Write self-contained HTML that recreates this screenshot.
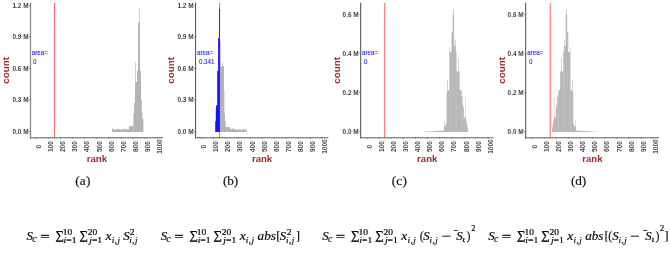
<!DOCTYPE html>
<html><head><meta charset="utf-8"><title>figure</title>
<style>html,body{margin:0;padding:0;background:#fff;}svg{display:block;}</style></head><body>
<svg width="670" height="269" viewBox="0 0 670 269">
<rect width="670" height="269" fill="#fff"/>
<g transform="translate(0.00,0)">
<path d="M112.20,132.00 L112.20,128.53 L113.00,128.53 L113.00,128.92 L113.80,128.92 L113.80,129.43 L114.60,129.43 L114.60,129.72 L115.40,129.72 L115.40,129.70 L116.20,129.70 L116.20,128.88 L117.00,128.88 L117.00,128.76 L117.80,128.76 L117.80,129.87 L118.60,129.87 L118.60,129.02 L119.40,129.02 L119.40,128.94 L120.20,128.94 L120.20,129.97 L121.00,129.97 L121.00,129.19 L121.80,129.19 L121.80,129.66 L122.60,129.66 L122.60,129.11 L123.40,129.11 L123.40,129.29 L124.20,129.29 L124.20,128.57 L125.00,128.57 L125.00,129.20 L125.80,129.20 L125.80,129.49 L126.60,129.49 L126.60,128.96 L127.40,128.96 L127.40,129.22 L128.20,129.22 L128.20,129.08 L129.00,129.08 L129.00,126.30 L133.40,126.30 L133.40,113.00 L134.20,113.00 L134.20,103.00 L135.00,103.00 L135.00,62.60 L135.60,62.60 L135.60,82.00 L137.00,82.00 L137.00,70.70 L138.00,70.70 L138.20,22.00 L139.10,22.00 L139.10,8.70 L139.70,8.70 L139.70,22.00 L139.95,22.00 L140.10,70.70 L141.00,70.70 L141.00,100.00 L141.80,100.00 L141.80,112.00 L142.40,112.00 L142.40,119.00 L143.40,119.00 L143.40,132.00Z" fill="#b4b4b4"/>
<line x1="30.50" y1="2.60" x2="30.50" y2="138.30" stroke="#8a8a8a" stroke-width="1.30"/>
<line x1="30.00" y1="137.80" x2="163.30" y2="137.80" stroke="#5a5a5a" stroke-width="1.0"/>
<line x1="28.80" y1="5.70" x2="30.50" y2="5.70" stroke="#666" stroke-width="0.7"/>
<text x="28.50" y="8.05" font-family="Liberation Sans, sans-serif" font-size="6.45" font-weight="bold" fill="#444" stroke="#3c3c3c" stroke-width="0" text-anchor="end">1.2 M</text>
<line x1="28.80" y1="36.70" x2="30.50" y2="36.70" stroke="#666" stroke-width="0.7"/>
<text x="28.50" y="39.05" font-family="Liberation Sans, sans-serif" font-size="6.45" font-weight="bold" fill="#444" stroke="#3c3c3c" stroke-width="0" text-anchor="end">0.9 M</text>
<line x1="28.80" y1="68.30" x2="30.50" y2="68.30" stroke="#666" stroke-width="0.7"/>
<text x="28.50" y="70.65" font-family="Liberation Sans, sans-serif" font-size="6.45" font-weight="bold" fill="#444" stroke="#3c3c3c" stroke-width="0" text-anchor="end">0.6 M</text>
<line x1="28.80" y1="99.90" x2="30.50" y2="99.90" stroke="#666" stroke-width="0.7"/>
<text x="28.50" y="102.25" font-family="Liberation Sans, sans-serif" font-size="6.45" font-weight="bold" fill="#444" stroke="#3c3c3c" stroke-width="0" text-anchor="end">0.3 M</text>
<line x1="28.80" y1="131.60" x2="30.50" y2="131.60" stroke="#666" stroke-width="0.7"/>
<text x="28.50" y="133.95" font-family="Liberation Sans, sans-serif" font-size="6.45" font-weight="bold" fill="#444" stroke="#3c3c3c" stroke-width="0" text-anchor="end">0.0 M</text>
<line x1="36.40" y1="137.80" x2="36.40" y2="139.00" stroke="#777" stroke-width="0.7"/>
<text transform="translate(41.00,146.6) rotate(-90)" font-family="Liberation Sans, sans-serif" font-size="6.5" font-weight="bold" fill="#4a4a4a" stroke="#3c3c3c" stroke-width="0" text-anchor="middle">0</text>
<line x1="48.50" y1="137.80" x2="48.50" y2="139.00" stroke="#777" stroke-width="0.7"/>
<text transform="translate(53.10,146.6) rotate(-90)" font-family="Liberation Sans, sans-serif" font-size="6.5" font-weight="bold" fill="#4a4a4a" stroke="#3c3c3c" stroke-width="0" text-anchor="middle">100</text>
<line x1="60.60" y1="137.80" x2="60.60" y2="139.00" stroke="#777" stroke-width="0.7"/>
<text transform="translate(65.20,146.6) rotate(-90)" font-family="Liberation Sans, sans-serif" font-size="6.5" font-weight="bold" fill="#4a4a4a" stroke="#3c3c3c" stroke-width="0" text-anchor="middle">200</text>
<line x1="72.70" y1="137.80" x2="72.70" y2="139.00" stroke="#777" stroke-width="0.7"/>
<text transform="translate(77.30,146.6) rotate(-90)" font-family="Liberation Sans, sans-serif" font-size="6.5" font-weight="bold" fill="#4a4a4a" stroke="#3c3c3c" stroke-width="0" text-anchor="middle">300</text>
<line x1="84.80" y1="137.80" x2="84.80" y2="139.00" stroke="#777" stroke-width="0.7"/>
<text transform="translate(89.40,146.6) rotate(-90)" font-family="Liberation Sans, sans-serif" font-size="6.5" font-weight="bold" fill="#4a4a4a" stroke="#3c3c3c" stroke-width="0" text-anchor="middle">400</text>
<line x1="96.90" y1="137.80" x2="96.90" y2="139.00" stroke="#777" stroke-width="0.7"/>
<text transform="translate(101.50,146.6) rotate(-90)" font-family="Liberation Sans, sans-serif" font-size="6.5" font-weight="bold" fill="#4a4a4a" stroke="#3c3c3c" stroke-width="0" text-anchor="middle">500</text>
<line x1="109.00" y1="137.80" x2="109.00" y2="139.00" stroke="#777" stroke-width="0.7"/>
<text transform="translate(113.60,146.6) rotate(-90)" font-family="Liberation Sans, sans-serif" font-size="6.5" font-weight="bold" fill="#4a4a4a" stroke="#3c3c3c" stroke-width="0" text-anchor="middle">600</text>
<line x1="121.10" y1="137.80" x2="121.10" y2="139.00" stroke="#777" stroke-width="0.7"/>
<text transform="translate(125.70,146.6) rotate(-90)" font-family="Liberation Sans, sans-serif" font-size="6.5" font-weight="bold" fill="#4a4a4a" stroke="#3c3c3c" stroke-width="0" text-anchor="middle">700</text>
<line x1="133.20" y1="137.80" x2="133.20" y2="139.00" stroke="#777" stroke-width="0.7"/>
<text transform="translate(137.80,146.6) rotate(-90)" font-family="Liberation Sans, sans-serif" font-size="6.5" font-weight="bold" fill="#4a4a4a" stroke="#3c3c3c" stroke-width="0" text-anchor="middle">800</text>
<line x1="145.30" y1="137.80" x2="145.30" y2="139.00" stroke="#777" stroke-width="0.7"/>
<text transform="translate(149.90,146.6) rotate(-90)" font-family="Liberation Sans, sans-serif" font-size="6.5" font-weight="bold" fill="#4a4a4a" stroke="#3c3c3c" stroke-width="0" text-anchor="middle">900</text>
<line x1="157.40" y1="137.80" x2="157.40" y2="139.00" stroke="#777" stroke-width="0.7"/>
<text transform="translate(162.00,146.6) rotate(-90)" font-family="Liberation Sans, sans-serif" font-size="6.5" font-weight="bold" fill="#4a4a4a" stroke="#3c3c3c" stroke-width="0" text-anchor="middle">1000</text>
<line x1="54.45" y1="2.8" x2="54.45" y2="137.80" stroke="#ff0000" stroke-width="1.00" stroke-opacity="0.64"/>
<text transform="translate(31.80,55.20) scale(1,1.28)" font-family="Liberation Sans, sans-serif" font-size="6.2" fill="#2a2aff" stroke="#2a2aff" stroke-width="0.12">area=</text>
<text transform="translate(33.10,63.90) scale(1,1.13)" font-family="Liberation Sans, sans-serif" font-size="6.2" fill="#2a2aff" stroke="#2a2aff" stroke-width="0.12">0</text>
<text x="96.9" y="161.6" font-family="Liberation Sans, sans-serif" font-size="9.6" font-weight="bold" fill="#a52a2a" text-anchor="middle">rank</text>
<text transform="translate(8.85,70.4) rotate(-90)" font-family="Liberation Sans, sans-serif" font-size="9.8" font-weight="bold" fill="#a52a2a" text-anchor="middle">count</text>
</g>
<g transform="translate(165.15,0)">
<clipPath id="cl1"><rect x="49.05" y="0" width="5.80" height="140"/></clipPath><clipPath id="cr1"><rect x="54.85" y="0" width="27.80" height="140"/></clipPath><path d="M50.05,132.00 L50.05,121.30 L50.65,121.30 L50.65,108.30 L50.95,108.30 L50.95,105.20 L52.05,105.20 L52.05,71.00 L52.95,71.00 L52.95,38.00 L53.85,38.00 L53.85,8.90 L54.85,8.90 L54.85,41.30 L55.45,41.30 L55.45,66.30 L57.15,66.30 L57.15,62.30 L57.75,62.30 L57.75,66.30 L58.85,66.30 L58.85,90.00 L59.25,90.00 L59.25,113.30 L59.85,113.30 L59.85,121.30 L60.55,121.30 L60.55,127.10 L64.65,127.10 L64.65,128.19 L65.45,128.19 L65.45,129.20 L66.25,129.20 L66.25,129.01 L67.05,129.01 L67.05,128.65 L67.85,128.65 L67.85,128.31 L68.65,128.31 L68.65,129.52 L69.45,129.52 L69.45,129.02 L70.25,129.02 L70.25,129.40 L71.05,129.40 L71.05,129.67 L71.85,129.67 L71.85,129.48 L72.65,129.48 L72.65,129.81 L73.45,129.81 L73.45,129.12 L74.25,129.12 L74.25,129.73 L75.05,129.73 L75.05,129.27 L75.85,129.27 L75.85,130.00 L76.65,130.00 L76.65,129.97 L77.45,129.97 L77.45,128.91 L78.25,128.91 L78.25,129.01 L79.05,129.01 L79.05,129.17 L79.85,129.17 L79.85,130.26 L80.65,130.26 L80.65,128.76 L81.45,128.76 L81.45,129.07 L81.65,129.07 L81.65,132.00Z" fill="#b4b4b4" clip-path="url(#cr1)"/><path d="M50.05,132.00 L50.05,121.30 L50.65,121.30 L50.65,108.30 L50.95,108.30 L50.95,105.20 L52.05,105.20 L52.05,71.00 L52.95,71.00 L52.95,38.00 L53.85,38.00 L53.85,8.90 L54.85,8.90 L54.85,41.30 L55.45,41.30 L55.45,66.30 L57.15,66.30 L57.15,62.30 L57.75,62.30 L57.75,66.30 L58.85,66.30 L58.85,90.00 L59.25,90.00 L59.25,113.30 L59.85,113.30 L59.85,121.30 L60.55,121.30 L60.55,127.10 L64.65,127.10 L64.65,128.19 L65.45,128.19 L65.45,129.20 L66.25,129.20 L66.25,129.01 L67.05,129.01 L67.05,128.65 L67.85,128.65 L67.85,128.31 L68.65,128.31 L68.65,129.52 L69.45,129.52 L69.45,129.02 L70.25,129.02 L70.25,129.40 L71.05,129.40 L71.05,129.67 L71.85,129.67 L71.85,129.48 L72.65,129.48 L72.65,129.81 L73.45,129.81 L73.45,129.12 L74.25,129.12 L74.25,129.73 L75.05,129.73 L75.05,129.27 L75.85,129.27 L75.85,130.00 L76.65,130.00 L76.65,129.97 L77.45,129.97 L77.45,128.91 L78.25,128.91 L78.25,129.01 L79.05,129.01 L79.05,129.17 L79.85,129.17 L79.85,130.26 L80.65,130.26 L80.65,128.76 L81.45,128.76 L81.45,129.07 L81.65,129.07 L81.65,132.00Z" fill="#1414ff" clip-path="url(#cl1)"/>
<line x1="30.45" y1="2.60" x2="30.45" y2="138.30" stroke="#4a4a4a" stroke-width="1.00"/>
<line x1="29.95" y1="137.80" x2="163.30" y2="137.80" stroke="#5a5a5a" stroke-width="1.0"/>
<line x1="28.75" y1="5.70" x2="30.45" y2="5.70" stroke="#666" stroke-width="0.7"/>
<text x="28.45" y="8.05" font-family="Liberation Sans, sans-serif" font-size="6.45" font-weight="bold" fill="#444" stroke="#3c3c3c" stroke-width="0" text-anchor="end">1.2 M</text>
<line x1="28.75" y1="36.70" x2="30.45" y2="36.70" stroke="#666" stroke-width="0.7"/>
<text x="28.45" y="39.05" font-family="Liberation Sans, sans-serif" font-size="6.45" font-weight="bold" fill="#444" stroke="#3c3c3c" stroke-width="0" text-anchor="end">0.9 M</text>
<line x1="28.75" y1="68.30" x2="30.45" y2="68.30" stroke="#666" stroke-width="0.7"/>
<text x="28.45" y="70.65" font-family="Liberation Sans, sans-serif" font-size="6.45" font-weight="bold" fill="#444" stroke="#3c3c3c" stroke-width="0" text-anchor="end">0.6 M</text>
<line x1="28.75" y1="99.90" x2="30.45" y2="99.90" stroke="#666" stroke-width="0.7"/>
<text x="28.45" y="102.25" font-family="Liberation Sans, sans-serif" font-size="6.45" font-weight="bold" fill="#444" stroke="#3c3c3c" stroke-width="0" text-anchor="end">0.3 M</text>
<line x1="28.75" y1="131.60" x2="30.45" y2="131.60" stroke="#666" stroke-width="0.7"/>
<text x="28.45" y="133.95" font-family="Liberation Sans, sans-serif" font-size="6.45" font-weight="bold" fill="#444" stroke="#3c3c3c" stroke-width="0" text-anchor="end">0.0 M</text>
<line x1="36.40" y1="137.80" x2="36.40" y2="139.00" stroke="#777" stroke-width="0.7"/>
<text transform="translate(41.00,146.6) rotate(-90)" font-family="Liberation Sans, sans-serif" font-size="6.5" font-weight="bold" fill="#4a4a4a" stroke="#3c3c3c" stroke-width="0" text-anchor="middle">0</text>
<line x1="48.50" y1="137.80" x2="48.50" y2="139.00" stroke="#777" stroke-width="0.7"/>
<text transform="translate(53.10,146.6) rotate(-90)" font-family="Liberation Sans, sans-serif" font-size="6.5" font-weight="bold" fill="#4a4a4a" stroke="#3c3c3c" stroke-width="0" text-anchor="middle">100</text>
<line x1="60.60" y1="137.80" x2="60.60" y2="139.00" stroke="#777" stroke-width="0.7"/>
<text transform="translate(65.20,146.6) rotate(-90)" font-family="Liberation Sans, sans-serif" font-size="6.5" font-weight="bold" fill="#4a4a4a" stroke="#3c3c3c" stroke-width="0" text-anchor="middle">200</text>
<line x1="72.70" y1="137.80" x2="72.70" y2="139.00" stroke="#777" stroke-width="0.7"/>
<text transform="translate(77.30,146.6) rotate(-90)" font-family="Liberation Sans, sans-serif" font-size="6.5" font-weight="bold" fill="#4a4a4a" stroke="#3c3c3c" stroke-width="0" text-anchor="middle">300</text>
<line x1="84.80" y1="137.80" x2="84.80" y2="139.00" stroke="#777" stroke-width="0.7"/>
<text transform="translate(89.40,146.6) rotate(-90)" font-family="Liberation Sans, sans-serif" font-size="6.5" font-weight="bold" fill="#4a4a4a" stroke="#3c3c3c" stroke-width="0" text-anchor="middle">400</text>
<line x1="96.90" y1="137.80" x2="96.90" y2="139.00" stroke="#777" stroke-width="0.7"/>
<text transform="translate(101.50,146.6) rotate(-90)" font-family="Liberation Sans, sans-serif" font-size="6.5" font-weight="bold" fill="#4a4a4a" stroke="#3c3c3c" stroke-width="0" text-anchor="middle">500</text>
<line x1="109.00" y1="137.80" x2="109.00" y2="139.00" stroke="#777" stroke-width="0.7"/>
<text transform="translate(113.60,146.6) rotate(-90)" font-family="Liberation Sans, sans-serif" font-size="6.5" font-weight="bold" fill="#4a4a4a" stroke="#3c3c3c" stroke-width="0" text-anchor="middle">600</text>
<line x1="121.10" y1="137.80" x2="121.10" y2="139.00" stroke="#777" stroke-width="0.7"/>
<text transform="translate(125.70,146.6) rotate(-90)" font-family="Liberation Sans, sans-serif" font-size="6.5" font-weight="bold" fill="#4a4a4a" stroke="#3c3c3c" stroke-width="0" text-anchor="middle">700</text>
<line x1="133.20" y1="137.80" x2="133.20" y2="139.00" stroke="#777" stroke-width="0.7"/>
<text transform="translate(137.80,146.6) rotate(-90)" font-family="Liberation Sans, sans-serif" font-size="6.5" font-weight="bold" fill="#4a4a4a" stroke="#3c3c3c" stroke-width="0" text-anchor="middle">800</text>
<line x1="145.30" y1="137.80" x2="145.30" y2="139.00" stroke="#777" stroke-width="0.7"/>
<text transform="translate(149.90,146.6) rotate(-90)" font-family="Liberation Sans, sans-serif" font-size="6.5" font-weight="bold" fill="#4a4a4a" stroke="#3c3c3c" stroke-width="0" text-anchor="middle">900</text>
<line x1="157.40" y1="137.80" x2="157.40" y2="139.00" stroke="#777" stroke-width="0.7"/>
<text transform="translate(162.00,146.6) rotate(-90)" font-family="Liberation Sans, sans-serif" font-size="6.5" font-weight="bold" fill="#4a4a4a" stroke="#3c3c3c" stroke-width="0" text-anchor="middle">1000</text>
<line x1="54.45" y1="2.8" x2="54.45" y2="137.80" stroke="#ff0000" stroke-width="1.00" stroke-opacity="0.64"/>
<text transform="translate(31.80,55.20) scale(1,1.28)" font-family="Liberation Sans, sans-serif" font-size="6.2" fill="#2a2aff" stroke="#2a2aff" stroke-width="0.12">area=</text>
<text transform="translate(33.80,63.90) scale(1,1.13)" font-family="Liberation Sans, sans-serif" font-size="6.2" fill="#2a2aff" stroke="#2a2aff" stroke-width="0.12">0.341</text>
<text x="96.9" y="161.6" font-family="Liberation Sans, sans-serif" font-size="9.6" font-weight="bold" fill="#a52a2a" text-anchor="middle">rank</text>
<text transform="translate(8.95,70.4) rotate(-90)" font-family="Liberation Sans, sans-serif" font-size="9.8" font-weight="bold" fill="#a52a2a" text-anchor="middle">count</text>
</g>
<g transform="translate(330.30,0)">
<path d="M113.60,132.00 L113.60,126.50 L113.90,126.50 L113.90,120.40 L114.40,120.40 L114.40,126.50 L115.30,126.50 L115.30,123.50 L116.20,123.50 L116.20,93.00 L116.80,93.00 L116.80,79.60 L117.40,79.60 L117.40,90.20 L119.00,90.20 L119.00,47.00 L119.50,47.00 L119.50,52.00 L121.20,52.00 L121.20,32.20 L122.30,32.20 L122.30,13.90 L122.80,13.90 L122.80,9.00 L123.40,9.00 L123.40,13.90 L123.80,13.90 L123.80,46.00 L125.00,46.00 L125.00,39.40 L125.60,39.40 L125.60,52.00 L126.30,52.00 L126.30,71.50 L127.90,71.50 L127.90,58.20 L128.50,58.20 L128.50,71.50 L129.40,71.50 L129.40,90.20 L131.40,90.20 L131.40,96.50 L132.40,96.50 L132.40,104.00 L132.80,104.00 L132.80,106.00 L133.20,106.00 L133.20,108.00 L133.60,108.00 L133.60,117.50 L134.00,117.50 L134.00,117.50 L134.40,117.50 L134.40,117.50 L134.80,117.50 L134.80,116.00 L135.20,116.00 L135.20,97.40 L135.60,97.40 L135.60,120.00 L136.00,120.00 L136.00,122.00 L136.40,122.00 L136.40,124.00 L136.80,124.00 L136.80,126.00 L137.20,126.00 L137.20,128.00 L137.60,128.00 L137.60,132.00Z" fill="#b4b4b4"/><polygon points="90.70,132.00 113.60,132.00 113.60,130.40" fill="#b4b4b4"/><line x1="114.00" y1="8" x2="114.00" y2="132.5" stroke="#fff" stroke-width="0.3" stroke-opacity="0.50"/>
<line x1="115.21" y1="8" x2="115.21" y2="132.5" stroke="#fff" stroke-width="0.3" stroke-opacity="0.25"/>
<line x1="116.42" y1="8" x2="116.42" y2="132.5" stroke="#fff" stroke-width="0.3" stroke-opacity="0.40"/>
<line x1="117.63" y1="8" x2="117.63" y2="132.5" stroke="#fff" stroke-width="0.3" stroke-opacity="0.20"/>
<line x1="118.84" y1="8" x2="118.84" y2="132.5" stroke="#fff" stroke-width="0.3" stroke-opacity="0.45"/>
<line x1="120.05" y1="8" x2="120.05" y2="132.5" stroke="#fff" stroke-width="0.3" stroke-opacity="0.50"/>
<line x1="121.26" y1="8" x2="121.26" y2="132.5" stroke="#fff" stroke-width="0.3" stroke-opacity="0.25"/>
<line x1="122.47" y1="8" x2="122.47" y2="132.5" stroke="#fff" stroke-width="0.3" stroke-opacity="0.40"/>
<line x1="123.68" y1="8" x2="123.68" y2="132.5" stroke="#fff" stroke-width="0.3" stroke-opacity="0.20"/>
<line x1="124.89" y1="8" x2="124.89" y2="132.5" stroke="#fff" stroke-width="0.3" stroke-opacity="0.45"/>
<line x1="126.10" y1="8" x2="126.10" y2="132.5" stroke="#fff" stroke-width="0.3" stroke-opacity="0.50"/>
<line x1="127.31" y1="8" x2="127.31" y2="132.5" stroke="#fff" stroke-width="0.3" stroke-opacity="0.25"/>
<line x1="128.52" y1="8" x2="128.52" y2="132.5" stroke="#fff" stroke-width="0.3" stroke-opacity="0.40"/>
<line x1="129.73" y1="8" x2="129.73" y2="132.5" stroke="#fff" stroke-width="0.3" stroke-opacity="0.20"/>
<line x1="130.94" y1="8" x2="130.94" y2="132.5" stroke="#fff" stroke-width="0.3" stroke-opacity="0.45"/>
<line x1="132.15" y1="8" x2="132.15" y2="132.5" stroke="#fff" stroke-width="0.3" stroke-opacity="0.50"/>
<line x1="133.36" y1="8" x2="133.36" y2="132.5" stroke="#fff" stroke-width="0.3" stroke-opacity="0.25"/>
<line x1="134.57" y1="8" x2="134.57" y2="132.5" stroke="#fff" stroke-width="0.3" stroke-opacity="0.40"/>
<line x1="135.78" y1="8" x2="135.78" y2="132.5" stroke="#fff" stroke-width="0.3" stroke-opacity="0.20"/>
<line x1="136.99" y1="8" x2="136.99" y2="132.5" stroke="#fff" stroke-width="0.3" stroke-opacity="0.45"/>
<line x1="30.40" y1="2.60" x2="30.40" y2="138.30" stroke="#4a4a4a" stroke-width="1.00"/>
<line x1="29.90" y1="137.80" x2="163.30" y2="137.80" stroke="#5a5a5a" stroke-width="1.0"/>
<line x1="28.70" y1="14.30" x2="30.40" y2="14.30" stroke="#666" stroke-width="0.7"/>
<text x="28.40" y="16.65" font-family="Liberation Sans, sans-serif" font-size="6.45" font-weight="bold" fill="#444" stroke="#3c3c3c" stroke-width="0" text-anchor="end">0.6 M</text>
<line x1="28.70" y1="53.20" x2="30.40" y2="53.20" stroke="#666" stroke-width="0.7"/>
<text x="28.40" y="55.55" font-family="Liberation Sans, sans-serif" font-size="6.45" font-weight="bold" fill="#444" stroke="#3c3c3c" stroke-width="0" text-anchor="end">0.4 M</text>
<line x1="28.70" y1="92.40" x2="30.40" y2="92.40" stroke="#666" stroke-width="0.7"/>
<text x="28.40" y="94.75" font-family="Liberation Sans, sans-serif" font-size="6.45" font-weight="bold" fill="#444" stroke="#3c3c3c" stroke-width="0" text-anchor="end">0.2 M</text>
<line x1="28.70" y1="131.60" x2="30.40" y2="131.60" stroke="#666" stroke-width="0.7"/>
<text x="28.40" y="133.95" font-family="Liberation Sans, sans-serif" font-size="6.45" font-weight="bold" fill="#444" stroke="#3c3c3c" stroke-width="0" text-anchor="end">0.0 M</text>
<line x1="36.80" y1="137.80" x2="36.80" y2="139.00" stroke="#777" stroke-width="0.7"/>
<text transform="translate(41.40,146.6) rotate(-90)" font-family="Liberation Sans, sans-serif" font-size="6.5" font-weight="bold" fill="#4a4a4a" stroke="#3c3c3c" stroke-width="0" text-anchor="middle">0</text>
<line x1="48.90" y1="137.80" x2="48.90" y2="139.00" stroke="#777" stroke-width="0.7"/>
<text transform="translate(53.50,146.6) rotate(-90)" font-family="Liberation Sans, sans-serif" font-size="6.5" font-weight="bold" fill="#4a4a4a" stroke="#3c3c3c" stroke-width="0" text-anchor="middle">100</text>
<line x1="61.00" y1="137.80" x2="61.00" y2="139.00" stroke="#777" stroke-width="0.7"/>
<text transform="translate(65.60,146.6) rotate(-90)" font-family="Liberation Sans, sans-serif" font-size="6.5" font-weight="bold" fill="#4a4a4a" stroke="#3c3c3c" stroke-width="0" text-anchor="middle">200</text>
<line x1="73.10" y1="137.80" x2="73.10" y2="139.00" stroke="#777" stroke-width="0.7"/>
<text transform="translate(77.70,146.6) rotate(-90)" font-family="Liberation Sans, sans-serif" font-size="6.5" font-weight="bold" fill="#4a4a4a" stroke="#3c3c3c" stroke-width="0" text-anchor="middle">300</text>
<line x1="85.20" y1="137.80" x2="85.20" y2="139.00" stroke="#777" stroke-width="0.7"/>
<text transform="translate(89.80,146.6) rotate(-90)" font-family="Liberation Sans, sans-serif" font-size="6.5" font-weight="bold" fill="#4a4a4a" stroke="#3c3c3c" stroke-width="0" text-anchor="middle">400</text>
<line x1="97.30" y1="137.80" x2="97.30" y2="139.00" stroke="#777" stroke-width="0.7"/>
<text transform="translate(101.90,146.6) rotate(-90)" font-family="Liberation Sans, sans-serif" font-size="6.5" font-weight="bold" fill="#4a4a4a" stroke="#3c3c3c" stroke-width="0" text-anchor="middle">500</text>
<line x1="109.40" y1="137.80" x2="109.40" y2="139.00" stroke="#777" stroke-width="0.7"/>
<text transform="translate(114.00,146.6) rotate(-90)" font-family="Liberation Sans, sans-serif" font-size="6.5" font-weight="bold" fill="#4a4a4a" stroke="#3c3c3c" stroke-width="0" text-anchor="middle">600</text>
<line x1="121.50" y1="137.80" x2="121.50" y2="139.00" stroke="#777" stroke-width="0.7"/>
<text transform="translate(126.10,146.6) rotate(-90)" font-family="Liberation Sans, sans-serif" font-size="6.5" font-weight="bold" fill="#4a4a4a" stroke="#3c3c3c" stroke-width="0" text-anchor="middle">700</text>
<line x1="133.60" y1="137.80" x2="133.60" y2="139.00" stroke="#777" stroke-width="0.7"/>
<text transform="translate(138.20,146.6) rotate(-90)" font-family="Liberation Sans, sans-serif" font-size="6.5" font-weight="bold" fill="#4a4a4a" stroke="#3c3c3c" stroke-width="0" text-anchor="middle">800</text>
<line x1="145.70" y1="137.80" x2="145.70" y2="139.00" stroke="#777" stroke-width="0.7"/>
<text transform="translate(150.30,146.6) rotate(-90)" font-family="Liberation Sans, sans-serif" font-size="6.5" font-weight="bold" fill="#4a4a4a" stroke="#3c3c3c" stroke-width="0" text-anchor="middle">900</text>
<line x1="157.80" y1="137.80" x2="157.80" y2="139.00" stroke="#777" stroke-width="0.7"/>
<text transform="translate(162.40,146.6) rotate(-90)" font-family="Liberation Sans, sans-serif" font-size="6.5" font-weight="bold" fill="#4a4a4a" stroke="#3c3c3c" stroke-width="0" text-anchor="middle">1000</text>
<line x1="54.45" y1="2.8" x2="54.45" y2="137.80" stroke="#ff0000" stroke-width="1.00" stroke-opacity="0.64"/>
<text transform="translate(31.80,55.20) scale(1,1.28)" font-family="Liberation Sans, sans-serif" font-size="6.2" fill="#2a2aff" stroke="#2a2aff" stroke-width="0.12">area=</text>
<text transform="translate(33.60,63.90) scale(1,1.13)" font-family="Liberation Sans, sans-serif" font-size="6.2" fill="#2a2aff" stroke="#2a2aff" stroke-width="0.12">0</text>
<text x="96.9" y="161.6" font-family="Liberation Sans, sans-serif" font-size="9.6" font-weight="bold" fill="#a52a2a" text-anchor="middle">rank</text>
<text transform="translate(9.20,70.4) rotate(-90)" font-family="Liberation Sans, sans-serif" font-size="9.8" font-weight="bold" fill="#a52a2a" text-anchor="middle">count</text>
</g>
<g transform="translate(495.45,0)">
<path d="M56.45,132.00 L56.45,128.00 L56.85,128.00 L56.85,126.00 L57.25,126.00 L57.25,124.00 L57.65,124.00 L57.65,122.00 L58.05,122.00 L58.05,120.00 L58.45,120.00 L58.45,97.40 L58.85,97.40 L58.85,116.00 L59.25,116.00 L59.25,117.50 L59.65,117.50 L59.65,117.50 L60.05,117.50 L60.05,117.50 L60.45,117.50 L60.45,108.00 L60.85,108.00 L60.85,106.00 L61.25,106.00 L61.25,104.00 L61.65,104.00 L61.65,96.50 L62.65,96.50 L62.65,90.20 L64.65,90.20 L64.65,71.50 L65.55,71.50 L65.55,58.20 L66.15,58.20 L66.15,71.50 L67.75,71.50 L67.75,52.00 L68.45,52.00 L68.45,39.40 L69.05,39.40 L69.05,46.00 L70.25,46.00 L70.25,13.90 L70.65,13.90 L70.65,9.00 L71.25,9.00 L71.25,13.90 L71.75,13.90 L71.75,32.20 L72.85,32.20 L72.85,52.00 L74.55,52.00 L74.55,47.00 L75.05,47.00 L75.05,90.20 L76.65,90.20 L76.65,79.60 L77.25,79.60 L77.25,93.00 L77.85,93.00 L77.85,123.50 L78.75,123.50 L78.75,126.50 L79.65,126.50 L79.65,120.40 L80.15,120.40 L80.15,126.50 L80.45,126.50 L80.45,132.00Z" fill="#b4b4b4"/><polygon points="103.35,132.00 80.45,132.00 80.45,130.40" fill="#b4b4b4"/><line x1="57.05" y1="8" x2="57.05" y2="132.5" stroke="#fff" stroke-width="0.3" stroke-opacity="0.50"/>
<line x1="58.26" y1="8" x2="58.26" y2="132.5" stroke="#fff" stroke-width="0.3" stroke-opacity="0.25"/>
<line x1="59.47" y1="8" x2="59.47" y2="132.5" stroke="#fff" stroke-width="0.3" stroke-opacity="0.40"/>
<line x1="60.68" y1="8" x2="60.68" y2="132.5" stroke="#fff" stroke-width="0.3" stroke-opacity="0.20"/>
<line x1="61.89" y1="8" x2="61.89" y2="132.5" stroke="#fff" stroke-width="0.3" stroke-opacity="0.45"/>
<line x1="63.10" y1="8" x2="63.10" y2="132.5" stroke="#fff" stroke-width="0.3" stroke-opacity="0.50"/>
<line x1="64.31" y1="8" x2="64.31" y2="132.5" stroke="#fff" stroke-width="0.3" stroke-opacity="0.25"/>
<line x1="65.52" y1="8" x2="65.52" y2="132.5" stroke="#fff" stroke-width="0.3" stroke-opacity="0.40"/>
<line x1="66.73" y1="8" x2="66.73" y2="132.5" stroke="#fff" stroke-width="0.3" stroke-opacity="0.20"/>
<line x1="67.94" y1="8" x2="67.94" y2="132.5" stroke="#fff" stroke-width="0.3" stroke-opacity="0.45"/>
<line x1="69.15" y1="8" x2="69.15" y2="132.5" stroke="#fff" stroke-width="0.3" stroke-opacity="0.50"/>
<line x1="70.36" y1="8" x2="70.36" y2="132.5" stroke="#fff" stroke-width="0.3" stroke-opacity="0.25"/>
<line x1="71.57" y1="8" x2="71.57" y2="132.5" stroke="#fff" stroke-width="0.3" stroke-opacity="0.40"/>
<line x1="72.78" y1="8" x2="72.78" y2="132.5" stroke="#fff" stroke-width="0.3" stroke-opacity="0.20"/>
<line x1="73.99" y1="8" x2="73.99" y2="132.5" stroke="#fff" stroke-width="0.3" stroke-opacity="0.45"/>
<line x1="75.20" y1="8" x2="75.20" y2="132.5" stroke="#fff" stroke-width="0.3" stroke-opacity="0.50"/>
<line x1="76.41" y1="8" x2="76.41" y2="132.5" stroke="#fff" stroke-width="0.3" stroke-opacity="0.25"/>
<line x1="77.62" y1="8" x2="77.62" y2="132.5" stroke="#fff" stroke-width="0.3" stroke-opacity="0.40"/>
<line x1="78.83" y1="8" x2="78.83" y2="132.5" stroke="#fff" stroke-width="0.3" stroke-opacity="0.20"/>
<line x1="80.04" y1="8" x2="80.04" y2="132.5" stroke="#fff" stroke-width="0.3" stroke-opacity="0.45"/>
<line x1="30.25" y1="2.60" x2="30.25" y2="138.30" stroke="#4a4a4a" stroke-width="1.00"/>
<line x1="29.75" y1="137.80" x2="163.80" y2="137.80" stroke="#5a5a5a" stroke-width="1.0"/>
<line x1="28.55" y1="14.30" x2="30.25" y2="14.30" stroke="#666" stroke-width="0.7"/>
<text x="28.25" y="16.65" font-family="Liberation Sans, sans-serif" font-size="6.45" font-weight="bold" fill="#444" stroke="#3c3c3c" stroke-width="0" text-anchor="end">0.6 M</text>
<line x1="28.55" y1="53.20" x2="30.25" y2="53.20" stroke="#666" stroke-width="0.7"/>
<text x="28.25" y="55.55" font-family="Liberation Sans, sans-serif" font-size="6.45" font-weight="bold" fill="#444" stroke="#3c3c3c" stroke-width="0" text-anchor="end">0.4 M</text>
<line x1="28.55" y1="92.40" x2="30.25" y2="92.40" stroke="#666" stroke-width="0.7"/>
<text x="28.25" y="94.75" font-family="Liberation Sans, sans-serif" font-size="6.45" font-weight="bold" fill="#444" stroke="#3c3c3c" stroke-width="0" text-anchor="end">0.2 M</text>
<line x1="28.55" y1="131.60" x2="30.25" y2="131.60" stroke="#666" stroke-width="0.7"/>
<text x="28.25" y="133.95" font-family="Liberation Sans, sans-serif" font-size="6.45" font-weight="bold" fill="#444" stroke="#3c3c3c" stroke-width="0" text-anchor="end">0.0 M</text>
<line x1="36.80" y1="137.80" x2="36.80" y2="139.00" stroke="#777" stroke-width="0.7"/>
<text transform="translate(41.40,146.6) rotate(-90)" font-family="Liberation Sans, sans-serif" font-size="6.5" font-weight="bold" fill="#4a4a4a" stroke="#3c3c3c" stroke-width="0" text-anchor="middle">0</text>
<line x1="48.90" y1="137.80" x2="48.90" y2="139.00" stroke="#777" stroke-width="0.7"/>
<text transform="translate(53.50,146.6) rotate(-90)" font-family="Liberation Sans, sans-serif" font-size="6.5" font-weight="bold" fill="#4a4a4a" stroke="#3c3c3c" stroke-width="0" text-anchor="middle">100</text>
<line x1="61.00" y1="137.80" x2="61.00" y2="139.00" stroke="#777" stroke-width="0.7"/>
<text transform="translate(65.60,146.6) rotate(-90)" font-family="Liberation Sans, sans-serif" font-size="6.5" font-weight="bold" fill="#4a4a4a" stroke="#3c3c3c" stroke-width="0" text-anchor="middle">200</text>
<line x1="73.10" y1="137.80" x2="73.10" y2="139.00" stroke="#777" stroke-width="0.7"/>
<text transform="translate(77.70,146.6) rotate(-90)" font-family="Liberation Sans, sans-serif" font-size="6.5" font-weight="bold" fill="#4a4a4a" stroke="#3c3c3c" stroke-width="0" text-anchor="middle">300</text>
<line x1="85.20" y1="137.80" x2="85.20" y2="139.00" stroke="#777" stroke-width="0.7"/>
<text transform="translate(89.80,146.6) rotate(-90)" font-family="Liberation Sans, sans-serif" font-size="6.5" font-weight="bold" fill="#4a4a4a" stroke="#3c3c3c" stroke-width="0" text-anchor="middle">400</text>
<line x1="97.30" y1="137.80" x2="97.30" y2="139.00" stroke="#777" stroke-width="0.7"/>
<text transform="translate(101.90,146.6) rotate(-90)" font-family="Liberation Sans, sans-serif" font-size="6.5" font-weight="bold" fill="#4a4a4a" stroke="#3c3c3c" stroke-width="0" text-anchor="middle">500</text>
<line x1="109.40" y1="137.80" x2="109.40" y2="139.00" stroke="#777" stroke-width="0.7"/>
<text transform="translate(114.00,146.6) rotate(-90)" font-family="Liberation Sans, sans-serif" font-size="6.5" font-weight="bold" fill="#4a4a4a" stroke="#3c3c3c" stroke-width="0" text-anchor="middle">600</text>
<line x1="121.50" y1="137.80" x2="121.50" y2="139.00" stroke="#777" stroke-width="0.7"/>
<text transform="translate(126.10,146.6) rotate(-90)" font-family="Liberation Sans, sans-serif" font-size="6.5" font-weight="bold" fill="#4a4a4a" stroke="#3c3c3c" stroke-width="0" text-anchor="middle">700</text>
<line x1="133.60" y1="137.80" x2="133.60" y2="139.00" stroke="#777" stroke-width="0.7"/>
<text transform="translate(138.20,146.6) rotate(-90)" font-family="Liberation Sans, sans-serif" font-size="6.5" font-weight="bold" fill="#4a4a4a" stroke="#3c3c3c" stroke-width="0" text-anchor="middle">800</text>
<line x1="145.70" y1="137.80" x2="145.70" y2="139.00" stroke="#777" stroke-width="0.7"/>
<text transform="translate(150.30,146.6) rotate(-90)" font-family="Liberation Sans, sans-serif" font-size="6.5" font-weight="bold" fill="#4a4a4a" stroke="#3c3c3c" stroke-width="0" text-anchor="middle">900</text>
<line x1="157.80" y1="137.80" x2="157.80" y2="139.00" stroke="#777" stroke-width="0.7"/>
<text transform="translate(162.40,146.6) rotate(-90)" font-family="Liberation Sans, sans-serif" font-size="6.5" font-weight="bold" fill="#4a4a4a" stroke="#3c3c3c" stroke-width="0" text-anchor="middle">1000</text>
<line x1="54.75" y1="2.8" x2="54.75" y2="137.80" stroke="#ff0000" stroke-width="1.00" stroke-opacity="0.64"/>
<text transform="translate(31.80,55.20) scale(1,1.28)" font-family="Liberation Sans, sans-serif" font-size="6.2" fill="#2a2aff" stroke="#2a2aff" stroke-width="0.12">area=</text>
<text transform="translate(33.60,63.90) scale(1,1.13)" font-family="Liberation Sans, sans-serif" font-size="6.2" fill="#2a2aff" stroke="#2a2aff" stroke-width="0.12">0</text>
<text x="96.9" y="161.6" font-family="Liberation Sans, sans-serif" font-size="9.6" font-weight="bold" fill="#a52a2a" text-anchor="middle">rank</text>
<text transform="translate(9.20,70.4) rotate(-90)" font-family="Liberation Sans, sans-serif" font-size="9.8" font-weight="bold" fill="#a52a2a" text-anchor="middle">count</text>
</g>
<text x="75.20" y="185.35" font-family="Liberation Serif, serif" font-size="13.3" letter-spacing="0.20" fill="#111" stroke="#111" stroke-width="0.15">(a)</text>
<text x="223.10" y="185.35" font-family="Liberation Serif, serif" font-size="13.3" letter-spacing="-0.15" fill="#111" stroke="#111" stroke-width="0.15">(b)</text>
<text x="391.70" y="185.35" font-family="Liberation Serif, serif" font-size="13.3" letter-spacing="0.20" fill="#111" stroke="#111" stroke-width="0.15">(c)</text>
<text x="571.00" y="185.35" font-family="Liberation Serif, serif" font-size="13.3" letter-spacing="-0.15" fill="#111" stroke="#111" stroke-width="0.15">(d)</text>
<text transform="translate(26.55,239.60) scale(1.000,1)" font-family="Liberation Serif, serif" font-size="12.90" font-style="italic" fill="#0a0a0a" stroke="#0a0a0a" stroke-width="0.20">S</text>
<text transform="translate(32.31,242.40) scale(1.000,1)" font-family="Liberation Serif, serif" font-size="9.70" font-style="italic" fill="#0a0a0a" stroke="#0a0a0a" stroke-width="0.16">c</text>
<text transform="translate(40.16,241.20) scale(1.400,1)" font-family="Liberation Serif, serif" font-size="12.00"  fill="#0a0a0a" stroke="#0a0a0a" stroke-width="0.25">=</text>
<text transform="translate(55.16,238.90) scale(1.000,1)" font-family="Liberation Serif, serif" font-size="11.90"  fill="#0a0a0a" stroke="#0a0a0a" stroke-width="0.35">∑</text>
<text transform="translate(62.77,234.90) scale(1.200,1)" font-family="Liberation Serif, serif" font-size="7.90"  fill="#0a0a0a" stroke="#0a0a0a" stroke-width="0.20">10</text>
<text transform="translate(63.57,242.80) scale(1.220,1)" font-family="Liberation Serif, serif" font-size="7.90" font-style="italic" fill="#0a0a0a" stroke="#0a0a0a" stroke-width="0.20">i<tspan font-style="normal">=1</tspan></text>
<text transform="translate(79.26,238.90) scale(1.000,1)" font-family="Liberation Serif, serif" font-size="11.90"  fill="#0a0a0a" stroke="#0a0a0a" stroke-width="0.35">∑</text>
<text transform="translate(87.77,234.90) scale(1.200,1)" font-family="Liberation Serif, serif" font-size="7.90"  fill="#0a0a0a" stroke="#0a0a0a" stroke-width="0.20">20</text>
<text transform="translate(89.24,242.80) scale(1.220,1)" font-family="Liberation Serif, serif" font-size="7.90" font-style="italic" fill="#0a0a0a" stroke="#0a0a0a" stroke-width="0.20">j<tspan font-style="normal">=1</tspan></text>
<text transform="translate(105.56,239.60) scale(1.050,1)" font-family="Liberation Serif, serif" font-size="12.90" font-style="italic" fill="#0a0a0a" stroke="#0a0a0a" stroke-width="0.20">x</text>
<text transform="translate(111.69,242.50) scale(1.150,1)" font-family="Liberation Serif, serif" font-size="8.00" font-style="italic" fill="#0a0a0a" stroke="#0a0a0a" stroke-width="0.16" letter-spacing="0.40">i,j</text>
<text transform="translate(123.25,239.60) scale(1.000,1)" font-family="Liberation Serif, serif" font-size="12.90" font-style="italic" fill="#0a0a0a" stroke="#0a0a0a" stroke-width="0.20">S</text>
<text transform="translate(129.87,234.90) scale(1.220,1)" font-family="Liberation Serif, serif" font-size="7.90"  fill="#0a0a0a" stroke="#0a0a0a" stroke-width="0.20">2</text>
<text transform="translate(129.19,242.90) scale(1.150,1)" font-family="Liberation Serif, serif" font-size="8.00" font-style="italic" fill="#0a0a0a" stroke="#0a0a0a" stroke-width="0.16" letter-spacing="0.40">i,j</text>
<text transform="translate(160.65,239.60) scale(1.000,1)" font-family="Liberation Serif, serif" font-size="12.90" font-style="italic" fill="#0a0a0a" stroke="#0a0a0a" stroke-width="0.20">S</text>
<text transform="translate(166.41,242.40) scale(1.000,1)" font-family="Liberation Serif, serif" font-size="9.70" font-style="italic" fill="#0a0a0a" stroke="#0a0a0a" stroke-width="0.16">c</text>
<text transform="translate(174.26,241.20) scale(1.400,1)" font-family="Liberation Serif, serif" font-size="12.00"  fill="#0a0a0a" stroke="#0a0a0a" stroke-width="0.25">=</text>
<text transform="translate(189.26,238.90) scale(1.000,1)" font-family="Liberation Serif, serif" font-size="11.90"  fill="#0a0a0a" stroke="#0a0a0a" stroke-width="0.35">∑</text>
<text transform="translate(196.87,234.90) scale(1.200,1)" font-family="Liberation Serif, serif" font-size="7.90"  fill="#0a0a0a" stroke="#0a0a0a" stroke-width="0.20">10</text>
<text transform="translate(197.67,242.80) scale(1.220,1)" font-family="Liberation Serif, serif" font-size="7.90" font-style="italic" fill="#0a0a0a" stroke="#0a0a0a" stroke-width="0.20">i<tspan font-style="normal">=1</tspan></text>
<text transform="translate(213.36,238.90) scale(1.000,1)" font-family="Liberation Serif, serif" font-size="11.90"  fill="#0a0a0a" stroke="#0a0a0a" stroke-width="0.35">∑</text>
<text transform="translate(221.87,234.90) scale(1.200,1)" font-family="Liberation Serif, serif" font-size="7.90"  fill="#0a0a0a" stroke="#0a0a0a" stroke-width="0.20">20</text>
<text transform="translate(223.34,242.80) scale(1.220,1)" font-family="Liberation Serif, serif" font-size="7.90" font-style="italic" fill="#0a0a0a" stroke="#0a0a0a" stroke-width="0.20">j<tspan font-style="normal">=1</tspan></text>
<text transform="translate(239.66,239.60) scale(1.050,1)" font-family="Liberation Serif, serif" font-size="12.90" font-style="italic" fill="#0a0a0a" stroke="#0a0a0a" stroke-width="0.20">x</text>
<text transform="translate(245.79,242.50) scale(1.150,1)" font-family="Liberation Serif, serif" font-size="8.00" font-style="italic" fill="#0a0a0a" stroke="#0a0a0a" stroke-width="0.16" letter-spacing="0.40">i,j</text>
<text transform="translate(257.61,239.60) scale(1.020,1)" font-family="Liberation Serif, serif" font-size="12.90" font-style="italic" fill="#0a0a0a" stroke="#0a0a0a" stroke-width="0.20">abs</text>
<text transform="translate(276.23,240.35) scale(1.000,1)" font-family="Liberation Serif, serif" font-size="12.90"  fill="#0a0a0a" stroke="#0a0a0a" stroke-width="0.15">[</text>
<text transform="translate(279.75,239.60) scale(1.000,1)" font-family="Liberation Serif, serif" font-size="12.90" font-style="italic" fill="#0a0a0a" stroke="#0a0a0a" stroke-width="0.20">S</text>
<text transform="translate(286.67,234.90) scale(1.220,1)" font-family="Liberation Serif, serif" font-size="7.90"  fill="#0a0a0a" stroke="#0a0a0a" stroke-width="0.20">2</text>
<text transform="translate(285.99,242.90) scale(1.150,1)" font-family="Liberation Serif, serif" font-size="8.00" font-style="italic" fill="#0a0a0a" stroke="#0a0a0a" stroke-width="0.16" letter-spacing="0.40">i,j</text>
<text transform="translate(295.65,240.35) scale(1.000,1)" font-family="Liberation Serif, serif" font-size="12.90"  fill="#0a0a0a" stroke="#0a0a0a" stroke-width="0.15">]</text>
<text transform="translate(322.25,239.60) scale(1.000,1)" font-family="Liberation Serif, serif" font-size="12.90" font-style="italic" fill="#0a0a0a" stroke="#0a0a0a" stroke-width="0.20">S</text>
<text transform="translate(328.01,242.40) scale(1.000,1)" font-family="Liberation Serif, serif" font-size="9.70" font-style="italic" fill="#0a0a0a" stroke="#0a0a0a" stroke-width="0.16">c</text>
<text transform="translate(335.86,241.20) scale(1.400,1)" font-family="Liberation Serif, serif" font-size="12.00"  fill="#0a0a0a" stroke="#0a0a0a" stroke-width="0.25">=</text>
<text transform="translate(350.86,238.90) scale(1.000,1)" font-family="Liberation Serif, serif" font-size="11.90"  fill="#0a0a0a" stroke="#0a0a0a" stroke-width="0.35">∑</text>
<text transform="translate(358.47,234.90) scale(1.200,1)" font-family="Liberation Serif, serif" font-size="7.90"  fill="#0a0a0a" stroke="#0a0a0a" stroke-width="0.20">10</text>
<text transform="translate(359.27,242.80) scale(1.220,1)" font-family="Liberation Serif, serif" font-size="7.90" font-style="italic" fill="#0a0a0a" stroke="#0a0a0a" stroke-width="0.20">i<tspan font-style="normal">=1</tspan></text>
<text transform="translate(374.96,238.90) scale(1.000,1)" font-family="Liberation Serif, serif" font-size="11.90"  fill="#0a0a0a" stroke="#0a0a0a" stroke-width="0.35">∑</text>
<text transform="translate(383.47,234.90) scale(1.200,1)" font-family="Liberation Serif, serif" font-size="7.90"  fill="#0a0a0a" stroke="#0a0a0a" stroke-width="0.20">20</text>
<text transform="translate(384.94,242.80) scale(1.220,1)" font-family="Liberation Serif, serif" font-size="7.90" font-style="italic" fill="#0a0a0a" stroke="#0a0a0a" stroke-width="0.20">j<tspan font-style="normal">=1</tspan></text>
<text transform="translate(401.26,239.60) scale(1.050,1)" font-family="Liberation Serif, serif" font-size="12.90" font-style="italic" fill="#0a0a0a" stroke="#0a0a0a" stroke-width="0.20">x</text>
<text transform="translate(407.39,242.50) scale(1.150,1)" font-family="Liberation Serif, serif" font-size="8.00" font-style="italic" fill="#0a0a0a" stroke="#0a0a0a" stroke-width="0.16" letter-spacing="0.40">i,j</text>
<text transform="translate(419.66,240.05) scale(1.000,1)" font-family="Liberation Serif, serif" font-size="11.90"  fill="#0a0a0a" stroke="#0a0a0a" stroke-width="0.12">(</text>
<text transform="translate(423.35,239.60) scale(1.000,1)" font-family="Liberation Serif, serif" font-size="12.90" font-style="italic" fill="#0a0a0a" stroke="#0a0a0a" stroke-width="0.20">S</text>
<text transform="translate(429.59,242.50) scale(1.150,1)" font-family="Liberation Serif, serif" font-size="8.00" font-style="italic" fill="#0a0a0a" stroke="#0a0a0a" stroke-width="0.16" letter-spacing="0.40">i,j</text>
<text transform="translate(441.66,240.05) scale(1.400,1)" font-family="Liberation Serif, serif" font-size="12.00"  fill="#0a0a0a" stroke="#0a0a0a" stroke-width="0.25">−</text>
<text transform="translate(454.37,237.00) scale(1.000,1)" font-family="Liberation Serif, serif" font-size="9.00"  fill="#0a0a0a" stroke="#0a0a0a" stroke-width="0.40">‾</text>
<text transform="translate(456.25,239.60) scale(1.000,1)" font-family="Liberation Serif, serif" font-size="12.90" font-style="italic" fill="#0a0a0a" stroke="#0a0a0a" stroke-width="0.20">S</text>
<text transform="translate(462.28,241.60) scale(1.200,1)" font-family="Liberation Serif, serif" font-size="8.60" font-style="italic" fill="#0a0a0a" stroke="#0a0a0a" stroke-width="0.20">ι</text>
<text transform="translate(466.62,240.05) scale(1.000,1)" font-family="Liberation Serif, serif" font-size="11.90"  fill="#0a0a0a" stroke="#0a0a0a" stroke-width="0.12">)</text>
<text transform="translate(471.13,231.40) scale(1.050,1)" font-family="Liberation Serif, serif" font-size="7.90"  fill="#0a0a0a" stroke="#0a0a0a" stroke-width="0.20">2</text>
<text transform="translate(488.25,239.60) scale(1.000,1)" font-family="Liberation Serif, serif" font-size="12.90" font-style="italic" fill="#0a0a0a" stroke="#0a0a0a" stroke-width="0.20">S</text>
<text transform="translate(494.01,242.40) scale(1.000,1)" font-family="Liberation Serif, serif" font-size="9.70" font-style="italic" fill="#0a0a0a" stroke="#0a0a0a" stroke-width="0.16">c</text>
<text transform="translate(501.86,241.20) scale(1.400,1)" font-family="Liberation Serif, serif" font-size="12.00"  fill="#0a0a0a" stroke="#0a0a0a" stroke-width="0.25">=</text>
<text transform="translate(516.86,238.90) scale(1.000,1)" font-family="Liberation Serif, serif" font-size="11.90"  fill="#0a0a0a" stroke="#0a0a0a" stroke-width="0.35">∑</text>
<text transform="translate(524.47,234.90) scale(1.200,1)" font-family="Liberation Serif, serif" font-size="7.90"  fill="#0a0a0a" stroke="#0a0a0a" stroke-width="0.20">10</text>
<text transform="translate(525.27,242.80) scale(1.220,1)" font-family="Liberation Serif, serif" font-size="7.90" font-style="italic" fill="#0a0a0a" stroke="#0a0a0a" stroke-width="0.20">i<tspan font-style="normal">=1</tspan></text>
<text transform="translate(540.96,238.90) scale(1.000,1)" font-family="Liberation Serif, serif" font-size="11.90"  fill="#0a0a0a" stroke="#0a0a0a" stroke-width="0.35">∑</text>
<text transform="translate(549.47,234.90) scale(1.200,1)" font-family="Liberation Serif, serif" font-size="7.90"  fill="#0a0a0a" stroke="#0a0a0a" stroke-width="0.20">20</text>
<text transform="translate(550.94,242.80) scale(1.220,1)" font-family="Liberation Serif, serif" font-size="7.90" font-style="italic" fill="#0a0a0a" stroke="#0a0a0a" stroke-width="0.20">j<tspan font-style="normal">=1</tspan></text>
<text transform="translate(567.26,239.60) scale(1.050,1)" font-family="Liberation Serif, serif" font-size="12.90" font-style="italic" fill="#0a0a0a" stroke="#0a0a0a" stroke-width="0.20">x</text>
<text transform="translate(573.39,242.50) scale(1.150,1)" font-family="Liberation Serif, serif" font-size="8.00" font-style="italic" fill="#0a0a0a" stroke="#0a0a0a" stroke-width="0.16" letter-spacing="0.40">i,j</text>
<text transform="translate(585.21,239.60) scale(1.020,1)" font-family="Liberation Serif, serif" font-size="12.90" font-style="italic" fill="#0a0a0a" stroke="#0a0a0a" stroke-width="0.20">abs</text>
<text transform="translate(604.53,240.35) scale(1.000,1)" font-family="Liberation Serif, serif" font-size="12.90"  fill="#0a0a0a" stroke="#0a0a0a" stroke-width="0.15">[</text>
<text transform="translate(608.16,240.05) scale(1.000,1)" font-family="Liberation Serif, serif" font-size="11.90"  fill="#0a0a0a" stroke="#0a0a0a" stroke-width="0.12">(</text>
<text transform="translate(612.15,239.60) scale(1.000,1)" font-family="Liberation Serif, serif" font-size="12.90" font-style="italic" fill="#0a0a0a" stroke="#0a0a0a" stroke-width="0.20">S</text>
<text transform="translate(618.49,242.50) scale(1.150,1)" font-family="Liberation Serif, serif" font-size="8.00" font-style="italic" fill="#0a0a0a" stroke="#0a0a0a" stroke-width="0.16" letter-spacing="0.40">i,j</text>
<text transform="translate(630.36,240.05) scale(1.400,1)" font-family="Liberation Serif, serif" font-size="12.00"  fill="#0a0a0a" stroke="#0a0a0a" stroke-width="0.25">−</text>
<text transform="translate(643.77,237.00) scale(1.000,1)" font-family="Liberation Serif, serif" font-size="9.00"  fill="#0a0a0a" stroke="#0a0a0a" stroke-width="0.40">‾</text>
<text transform="translate(645.25,239.60) scale(1.000,1)" font-family="Liberation Serif, serif" font-size="12.90" font-style="italic" fill="#0a0a0a" stroke="#0a0a0a" stroke-width="0.20">S</text>
<text transform="translate(651.38,241.60) scale(1.200,1)" font-family="Liberation Serif, serif" font-size="8.60" font-style="italic" fill="#0a0a0a" stroke="#0a0a0a" stroke-width="0.20">ι</text>
<text transform="translate(655.62,240.05) scale(1.000,1)" font-family="Liberation Serif, serif" font-size="11.90"  fill="#0a0a0a" stroke="#0a0a0a" stroke-width="0.12">)</text>
<text transform="translate(659.93,231.40) scale(1.050,1)" font-family="Liberation Serif, serif" font-size="7.90"  fill="#0a0a0a" stroke="#0a0a0a" stroke-width="0.20">2</text>
<text transform="translate(664.35,240.35) scale(1.000,1)" font-family="Liberation Serif, serif" font-size="12.90"  fill="#0a0a0a" stroke="#0a0a0a" stroke-width="0.15">]</text>
</svg></body></html>
